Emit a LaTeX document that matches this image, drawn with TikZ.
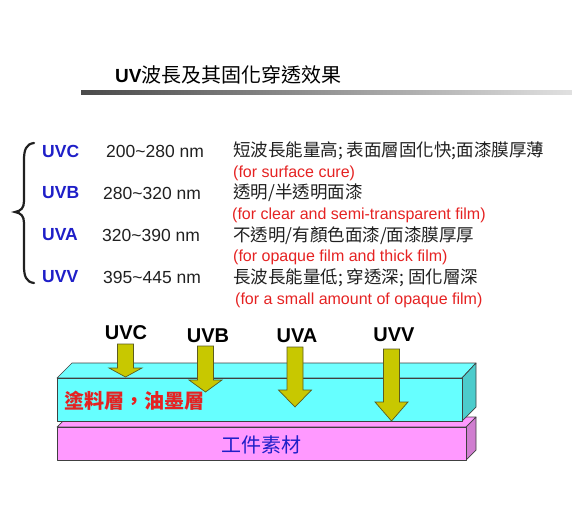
\documentclass[tikz,border=0pt]{standalone}
\usepackage{fontspec}
\setmainfont{Liberation Sans}
\newfontfamily\cjk{Noto Sans CJK TC}
\usetikzlibrary{positioning}
\definecolor{ink}{HTML}{202020}
\definecolor{band}{HTML}{1F1FC8}
\definecolor{note}{HTML}{E52222}
\definecolor{bar}{HTML}{4A4A4A}
\definecolor{coat}{HTML}{66FFFF}
\definecolor{coattop}{HTML}{70FFFF}
\definecolor{coatside}{HTML}{4CCCCC}
\definecolor{part}{HTML}{FF99FF}
\definecolor{partside}{HTML}{D07ED0}
\definecolor{ray}{HTML}{C8C800}
\definecolor{rayline}{HTML}{5C5C20}
\definecolor{edge}{HTML}{404040}
\tikzset{
  txt/.style={inner sep=0pt,anchor=west},
  bandname/.style={txt,text=band,font=\fontsize{17.5}{20}\selectfont\bfseries},
  nmspan/.style={txt,text=ink,font=\fontsize{17.5}{20}\selectfont},
  effect/.style={txt,text=ink,font=\cjk\fontsize{17.5}{20}\selectfont},
  usage/.style={txt,text=note,font=\fontsize{16}{18}\selectfont},
  slab/.style={draw=edge,line width=0.7pt,line join=round},
  ray/.style={draw=rayline,fill=ray,line width=0.7pt},
  raylabel/.style={inner sep=0pt,font=\fontsize{20}{22}\selectfont\bfseries},
}

\begin{document}
\begin{tikzpicture}[x=1pt,y=-1pt]
  \useasboundingbox (0,0) rectangle (572,505);
  % title and bar
  \node[txt,font=\fontsize{20}{22}\selectfont] (title) at (115,75)
    {{\fontsize{19}{22}\selectfont\bfseries UV}{\cjk 波長及其固化穿透效果}};
  \shade[left color=bar,right color=black!12] (81,91) rectangle (572,95);

  % brace
  \draw[ink,line width=2.2pt,line cap=round]
    (34,143) .. controls (26,144) and (24,150) .. (24,160) -- (24,201)
    .. controls (24,208) and (21,211) .. (15,212)
    .. controls (21,213) and (24,216) .. (24,223) -- (24,266)
    .. controls (24,276) and (26,282) .. (34,283);

  % list of bands
  \node[bandname] (uvc) at (42,151) {UVC};
  \node[nmspan] (uvcspan) at (106,151) {200\textasciitilde 280 nm};
  \node[effect] (uvctext) at (233,151) {短波長能量高; 表面層固化快;面漆膜厚薄};
  \node[usage] (uvcnote) at (233,173) {(for surface cure)};

  \node[bandname] (uvb) at (42,193) {UVB};
  \node[nmspan] (uvbspan) at (103,193) {280\textasciitilde 320 nm};
  \node[effect] (uvbtext) at (233,193) {透明/半透明面漆};
  \node[usage] (uvbnote) at (232,215) {(for clear and semi-transparent film)};

  \node[bandname] (uva) at (42,235) {UVA};
  \node[nmspan] (uvaspan) at (102,235) {320\textasciitilde 390 nm};
  \node[effect] (uvatext) at (233,236) {不透明/有顏色面漆/面漆膜厚厚};
  \node[usage] (uvanote) at (233,257) {(for opaque film and thick film)};

  \node[bandname] (uvv) at (42,277) {UVV};
  \node[nmspan] (uvvspan) at (103,277) {395\textasciitilde 445 nm};
  \node[effect] (uvvtext) at (233,278) {長波長能量低; 穿透深; 固化層深};
  \node[usage] (uvvnote) at (235,300) {(for a small amount of opaque film)};

  % substrate
  \draw[slab,fill=part] (57,427) -- (67,417) -- (476,417) -- (466,427) -- cycle;
  \draw[slab,fill=partside] (466,427) -- (476,417) -- (476,450) -- (466,460) -- cycle;
  \draw[slab,fill=part] (57,427) rectangle (466,460);
  % coating
  \draw[slab,fill=coattop] (57,378) -- (72,363) -- (476,363) -- (462,378) -- cycle;
  \draw[slab,fill=coatside] (462,378) -- (476,363) -- (476,407) -- (462,421) -- cycle;
  \draw[slab,fill=coat] (57,378) rectangle (462,421);

  % rays
  \foreach \x/\top/\base/\tip in {125.5/344/368/377, 205.5/346/380/392,
                                 295/347/390/407, 391.5/349/402/421}
    \draw[ray] (\x-8,\top) -- (\x+8,\top) -- (\x+8,\base) -- (\x+16.5,\base)
      -- (\x,\tip) -- (\x-16.5,\base) -- (\x-8,\base) -- cycle;

  \node[raylabel] (lc) at (126,333) {UVC};
  \node[raylabel] (lb) at (208,336) {UVB};
  \node[raylabel] (la) at (297,336) {UVA};
  \node[raylabel] (lv) at (394,335) {UVV};

  \node[txt,text=note,font=\cjk\fontsize{20}{22}\selectfont\bfseries] (coatname)
    at (64,401) {塗料層，油墨層};
  \node[inner sep=0pt,text=band,font=\cjk\fontsize{20}{22}\selectfont] (partname)
    at (261.5,445) {工件素材};
\end{tikzpicture}
\end{document}
